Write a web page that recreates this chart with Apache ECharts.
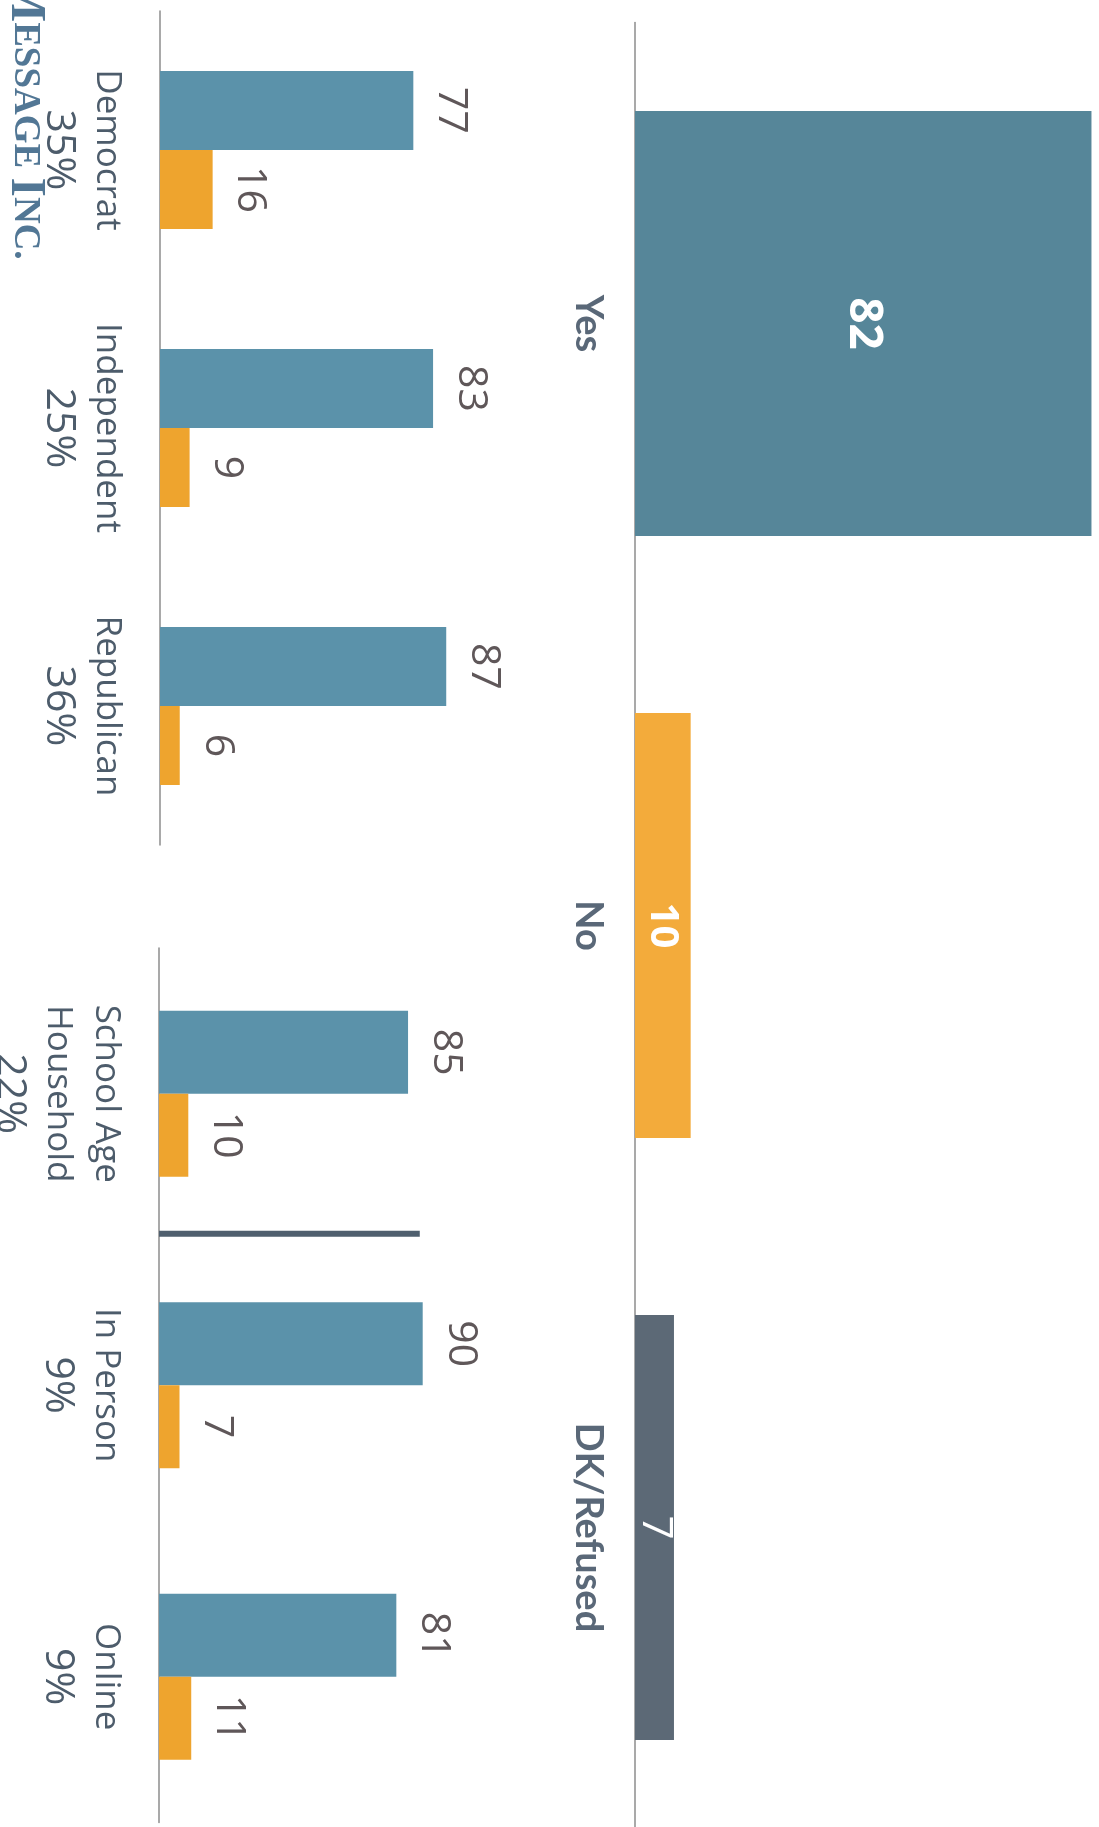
<!DOCTYPE html>
<html>
<head>
<meta charset="utf-8">
<script src="https://cdn.jsdelivr.net/npm/echarts@6/dist/echarts.min.js"></script>
<style>
html,body{margin:0;padding:0;background:#ffffff;}
#chart{width:1099px;height:1827px;}
</style>
</head>
<body>
<div id="chart"></div>
<script>
// ---- data ----
const overallCats = ['Yes', 'No', 'DK/Refused'];
const overallVals = [82, 10, 7];
const partyCats = ['Democrat', 'Independent', 'Republican'];
const partyShares = ['35%', '25%', '36%'];
const partyYes = [77, 83, 87];
const partyNo = [16, 9, 6];
const schoolCats = ['School Age\nHousehold', 'In Person', 'Online'];
const schoolShares = ['22%', '9%', '9%'];
const schoolYes = [85, 90, 81];
const schoolNo = [10, 7, 11];
const dividerPoints = [[0, 0.98], [89, 0.98]];

// ---- styles ----
const BLUE = '#5b92aa', ORANGE = '#eea42e';
const OVERALL_COLORS = ['#568699', '#f3ab3b', '#5c6976'];
const OVERALL_LABEL_WEIGHT = ['bold', 'bold', 'normal'];
const OVERALL_LABEL_SIZE = [46, 40, 42];
const TEXT = '#4d5c6b', VAL = '#5f5759';
const NUMFONT = '"Liberation Sans Narrow", "Open Sans", sans-serif';

function catLabel(shares) {
  return {
    rotate: -90,
    margin: 29,
    formatter: function (v, i) {
      return v.split('\n').map(s => '{a|' + s + '}').join('\n') + '\n{b|' + shares[i] + '}';
    },
    rich: {
      a: { fontSize: 35, fontFamily: '"Open Sans", sans-serif', color: TEXT, lineHeight: 48 },
      b: { fontSize: 41, fontFamily: NUMFONT, color: TEXT, lineHeight: 48 }
    }
  };
}
function valLabel() {
  return {
    show: true, position: 'right', rotate: -90, align: 'center', verticalAlign: 'bottom',
    distance: 17, fontSize: 41, fontFamily: NUMFONT, color: VAL
  };
}
const axisLineStyle = { show: true, onZero: false, lineStyle: { color: '#8c8c8c', width: 1.5 } };

const chart = echarts.init(document.getElementById('chart'));
chart.setOption({
  backgroundColor: '#ffffff',
  animation: false,
  grid: [
    { left: 635, top: 22.5, width: 501, height: 1806, outerBoundsMode: 'none', containLabel: false },
    { left: 160, top: 11, width: 329, height: 834, outerBoundsMode: 'none', containLabel: false },
    { left: 159, top: 948, width: 293, height: 874.5, outerBoundsMode: 'none', containLabel: false }
  ],
  xAxis: [
    { type: 'value', gridIndex: 0, min: 0, max: 90, show: false },
    { type: 'value', gridIndex: 1, min: 0, max: 100, show: false },
    { type: 'value', gridIndex: 2, min: 0, max: 100, show: false }
  ],
  yAxis: [
    { type: 'category', gridIndex: 0, data: overallCats, inverse: true,
      axisLine: axisLineStyle, axisTick: { show: false },
      axisLabel: { rotate: -90, margin: 28, fontSize: 38, fontWeight: 'bold',
        fontFamily: 'Lato, "Open Sans", sans-serif', color: '#5a6878' } },
    { type: 'category', gridIndex: 1, data: partyCats, inverse: true,
      axisLine: axisLineStyle, axisTick: { show: false }, axisLabel: catLabel(partyShares) },
    { type: 'category', gridIndex: 2, data: schoolCats, inverse: true,
      axisLine: axisLineStyle, axisTick: { show: false }, axisLabel: catLabel(schoolShares) },
    { type: 'value', gridIndex: 2, min: 0, max: 3, inverse: true, show: false }
  ],
  series: [
    { type: 'bar', xAxisIndex: 0, yAxisIndex: 0, barWidth: 425,
      data: overallVals.map((v, i) => ({
        value: v,
        itemStyle: { color: OVERALL_COLORS[i] },
        label: { fontWeight: OVERALL_LABEL_WEIGHT[i], fontSize: OVERALL_LABEL_SIZE[i] }
      })),
      label: { show: true, position: 'inside', rotate: -90, color: '#ffffff',
        fontFamily: '"Open Sans", sans-serif', fontSize: 44 } },
    { type: 'bar', name: 'Yes', xAxisIndex: 1, yAxisIndex: 1, data: partyYes, barWidth: 79, barGap: '0%',
      itemStyle: { color: BLUE }, label: valLabel() },
    { type: 'bar', name: 'No', xAxisIndex: 1, yAxisIndex: 1, data: partyNo, barWidth: 79, barGap: '0%',
      itemStyle: { color: ORANGE }, label: valLabel() },
    { type: 'bar', name: 'Yes', xAxisIndex: 2, yAxisIndex: 2, data: schoolYes, barWidth: 83, barGap: '0%',
      itemStyle: { color: BLUE }, label: valLabel() },
    { type: 'bar', name: 'No', xAxisIndex: 2, yAxisIndex: 2, data: schoolNo, barWidth: 83, barGap: '0%',
      itemStyle: { color: ORANGE }, label: valLabel() },
    { type: 'line', xAxisIndex: 2, yAxisIndex: 3, data: dividerPoints, symbol: 'none', silent: true,
      lineStyle: { color: '#4f5f6e', width: 6 }, z: 3 }
  ],
  graphic: [
    { type: 'text', x: 0, y: -25, rotation: -Math.PI / 2, silent: true,
      style: {
        text: '{m|M}{s|ESSAGE }{m|I}{s|NC.}',
        verticalAlign: 'bottom', align: 'left',
        fill: '#3f6889', opacity: 0.9,
        rich: {
          m: { fontSize: 50, fontFamily: '"Liberation Serif", serif', fontWeight: 'bold', fill: '#3f6889' },
          s: { fontSize: 37, fontFamily: '"Liberation Serif", serif', fontWeight: 'bold', fill: '#3f6889' }
        }
      } }
  ]
});
</script>
</body>
</html>
